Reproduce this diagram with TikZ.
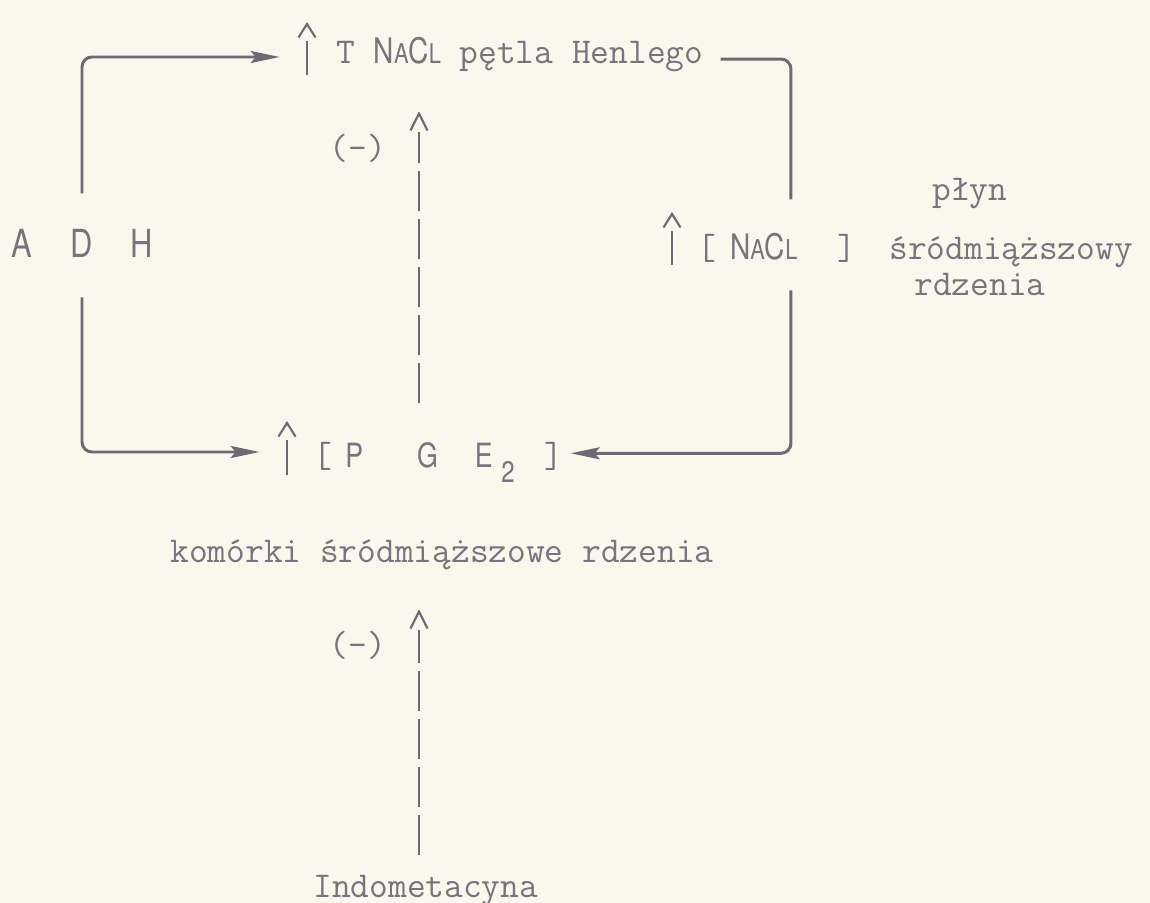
\documentclass[tikz,border=0pt]{standalone}
\usepackage{fontspec}
\setsansfont{TeX Gyre Heros}[FakeStretch=0.8]
\usetikzlibrary{arrows.meta}

\definecolor{paper}{RGB}{250,248,236}
\definecolor{ink}{RGB}{112,104,114}
\definecolor{inktext}{RGB}{122,114,124}

\newcommand{\salt}{{\sffamily\fontsize{20}{24}\selectfont N{\fontsize{15.5}{18}\selectfont A}C{\fontsize{15.5}{18}\selectfont L}}}

\tikzset{
  mono/.style={text=inktext,inner sep=0pt,font=\ttfamily\fontsize{20.7}{24}\selectfont},
  sans/.style={text=inktext,inner sep=0pt,font=\sffamily\fontsize{22}{26}\selectfont},
  wire/.style={draw=ink,line width=1.7pt,rounded corners=0.2cm},
  link/.style={wire,-{Stealth[length=0.58cm,width=0.24cm,inset=0.1cm]}},
  inhib/.style={draw=ink,line width=1.7pt,dash pattern=on 0.8cm off 0.16cm},
  rise/.style={inner sep=0pt,minimum width=0.4cm,minimum height=1.06cm,
    path picture={
      \draw[ink,line width=1.7pt] (path picture bounding box.south) -- ([yshift=-0.36cm]path picture bounding box.north);
      \draw[ink,line width=1.2pt] ([xshift=-0.17cm,yshift=-0.3cm]path picture bounding box.north) -- ([yshift=-0.03cm]path picture bounding box.north) -- ([xshift=0.17cm,yshift=-0.3cm]path picture bounding box.north);
    }},
  hat/.style={inner sep=0pt,minimum width=0.4cm,minimum height=0.4cm,
    path picture={
      \draw[ink,line width=1.2pt] ([xshift=-0.17cm,yshift=0.03cm]path picture bounding box.south) -- ([yshift=-0.03cm]path picture bounding box.north) -- ([xshift=0.17cm,yshift=0.03cm]path picture bounding box.south);
    }}
}

\begin{document}
\begin{tikzpicture}[x=0.02cm,y=-0.02cm]
\fill[paper] (0,0) rectangle (1150,903);
\useasboundingbox (0,0) rectangle (1150,903);

\node[mono,anchor=base west] (tnacl) at (336,63) {T \salt\ pętla Henlego};
\node[sans,anchor=base] (adh) at (82,257) {A\hspace{21.9pt}D\hspace{21.4pt}H};
\node[mono,anchor=base west] (nacl) at (697,259) {[\hspace{8pt}\salt\hspace{23pt}]};
\node[mono,anchor=base west] (pge) at (313,467) {[\hspace{7.6pt}{\sffamily\fontsize{19}{22}\selectfont P\hspace{30.7pt}G\hspace{21pt}E\hspace{5pt}\raisebox{-9pt}{\fontsize{17}{19}\selectfont 2}}\hspace{17pt}]};
\node[mono,anchor=base west] (plyn) at (932,200) {płyn};
\node[mono,anchor=base west] (srod) at (889,259) {śródmiąższowy};
\node[mono,anchor=base west] (rdz) at (914,295) {rdzenia};
\node[mono,anchor=base west] (kom) at (170,562) {komórki śródmiąższowe rdzenia};
\node[mono,anchor=base west] (indo) at (313,897) {Indometacyna};
\node[mono] (neg1) at (358,148) {(-)};
\node[mono] (neg2) at (358,645) {(-)};

\node[rise] (up1) at (307,49) {};
\node[rise] (up2) at (672,239) {};
\node[rise] (up3) at (287,448) {};
\node[hat] (hat1) at (419,122) {};
\node[hat] (hat2) at (419,620) {};
\coordinate (c1) at (419,403);
\coordinate (c2) at (419,855);

\draw[link,shorten <=0.7cm,shorten >=0.34cm] (adh.north) |- ([yshift=-0.16cm]up1.west);
\draw[link,shorten <=0.8cm,shorten >=0.34cm] (adh.south) |- ([yshift=-0.08cm]up3.west);
\draw[wire,shorten <=0.34cm,shorten >=0.66cm] ([yshift=-0.1cm]tnacl.east) -| ([xshift=0.28cm]nacl.north);
\draw[link,shorten <=0.56cm,shorten >=0.14cm] ([xshift=0.28cm]nacl.south) |- ([yshift=0.18cm]pge.east);
\draw[inhib] (c1) -- (hat1.south);
\draw[inhib] (c2) -- (hat2.south);
\end{tikzpicture}
\end{document}
